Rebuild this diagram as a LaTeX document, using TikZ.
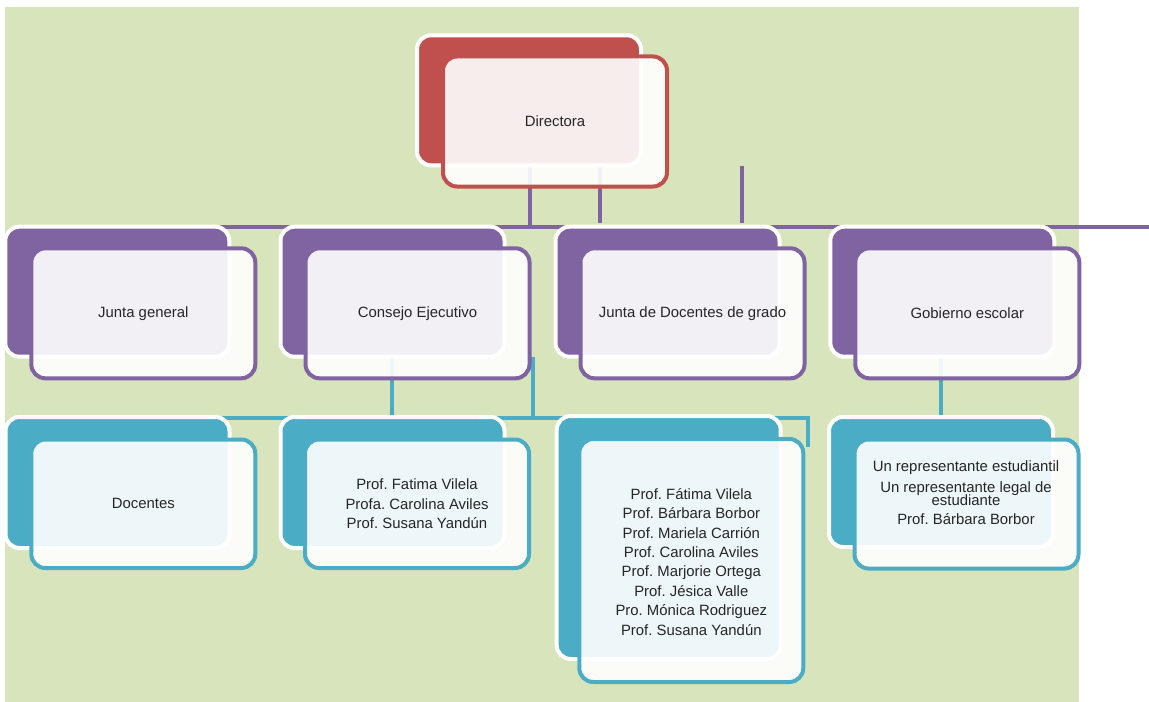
\documentclass[tikz,border=0pt]{standalone}
\usepackage{fontspec}
\setmainfont{Liberation Sans}
\frenchspacing
\definecolor{bg}{HTML}{D8E4BC}
\definecolor{cred}{HTML}{C0504D}
\definecolor{cpur}{HTML}{8064A2}
\definecolor{cteal}{HTML}{4BACC6}
\definecolor{txtc}{HTML}{262626}
\begin{document}
\begin{tikzpicture}[x=1bp,y=-1bp,
  backbox/.style={draw=white, line width=4bp, rounded corners=14bp, fill=#1,
    minimum width=224bp, minimum height=130bp, inner sep=0pt, outer sep=0pt, anchor=north west},
  frontbox/.style={draw=#1, line width=4bp, rounded corners=14bp, fill=white, fill opacity=0.9,
    minimum width=224bp, minimum height=130bp, inner sep=0pt, outer sep=0pt, anchor=north west},
  lbl/.style={font=\fontsize{14.9bp}{19.4bp}\selectfont\frenchspacing, text=txtc, align=center, inner sep=0pt},
  link/.style={line width=4bp, draw=#1}]
\useasboundingbox (0,0) rectangle (1149,702);
\fill[bg] (5,7) rectangle (1079,702);

% connector end points
\coordinate (pa1) at (530,167); \coordinate (pa2) at (530,227);
\coordinate (pb1) at (600,167); \coordinate (pb2) at (600,223);
\coordinate (pc1) at (742,166); \coordinate (pc2) at (742,223);
\coordinate (busL) at (117,227); \coordinate (busR) at (1149,227);
\coordinate (ta1) at (392,357); \coordinate (ta2) at (392,416);
\coordinate (tb1) at (533,357); \coordinate (tb2) at (533,418);
\coordinate (tbusL) at (117,418); \coordinate (tbusR) at (808,418); \coordinate (tbusE) at (808,447);
\coordinate (tc1) at (941,357); \coordinate (tc2) at (941,416);

% connectors
\draw[link=cpur] (pa1) -- (pa2);
\draw[link=cpur] (pb1) -- (pb2);
\draw[link=cpur] (pc1) -- (pc2);
\draw[link=cpur] (busL) -- (busR);
\draw[link=cteal] (ta1) -- (ta2);
\draw[link=cteal] (tb1) -- (tb2);
\draw[link=cteal] (tbusL) -- (tbusR) -- (tbusE);
\draw[link=cteal] (tc1) -- (tc2);

% Directora
\node[backbox=cred] (dirB) at (417,35.3) {};
\node[frontbox=cred] (dirF) at (443,56.5) {};
\node[lbl] (dirT) at (dirF.center) {Directora};

% level 2
\node[backbox=cpur] (jgB) at (5.3,226.7) {};
\node[frontbox=cpur] (jgF) at (31.3,248.3) {};
\node[lbl] (jgT) at (jgF.center) {Junta general};

\node[backbox=cpur] (ceB) at (280.5,226.7) {};
\node[frontbox=cpur] (ceF) at (305.5,248.3) {};
\node[lbl] (ceT) at (ceF.center) {Consejo Ejecutivo};

\node[backbox=cpur] (jdB) at (555.5,226.7) {};
\node[frontbox=cpur] (jdF) at (580.5,248.3) {};
\node[lbl] (jdT) at (jdF.center) {Junta de Docentes de grado};

\node[backbox=cpur] (geB) at (830.3,226.7) {};
\node[frontbox=cpur] (geF) at (855.3,248.3) {};
\node[lbl] (geT) at (geF.center) {Gobierno escolar};

% level 3
\node[backbox=cteal, minimum height=131bp] (doB) at (5.5,417) {};
\node[frontbox=cteal, minimum height=128.5bp] (doF) at (31.3,439.5) {};
\node[lbl] (doT) at (doF.center) {Docentes};

\node[backbox=cteal, minimum height=131bp] (cpB) at (280.5,417) {};
\node[frontbox=cteal, minimum height=128.5bp] (cpF) at (305,439.5) {};
\node[lbl] (cpT) at (cpF.center) {Prof. Fatima Vilela\\Profa. Carolina Aviles\\Prof. Susana Yandún};

\node[backbox=cteal, minimum height=243bp] (dgB) at (556.7,416) {};
\node[frontbox=cteal, minimum height=243bp] (dgF) at (579.3,439) {};
\node[lbl] (dgT) at ([yshift=-1.3bp]dgF.center) {Prof. Fátima Vilela\\Prof. Bárbara Borbor\\Prof. Mariela Carrión\\Prof. Carolina Aviles\\Prof. Marjorie Ortega\\Prof. Jésica Valle\\Pro. Mónica Rodriguez\\Prof. Susana Yandún};

\node[backbox=cteal, minimum height=130bp] (esB) at (829,417) {};
\node[frontbox=cteal, minimum height=129bp] (esF) at (854.5,439.5) {};
\coordinate (esC) at (966,493);
\node[lbl] (esT) at (esC) {Un representante estudiantil\\[1.2bp]Un representante legal de\\[-6.7bp]estudiante\\Prof. Bárbara Borbor};
\end{tikzpicture}
\end{document}
